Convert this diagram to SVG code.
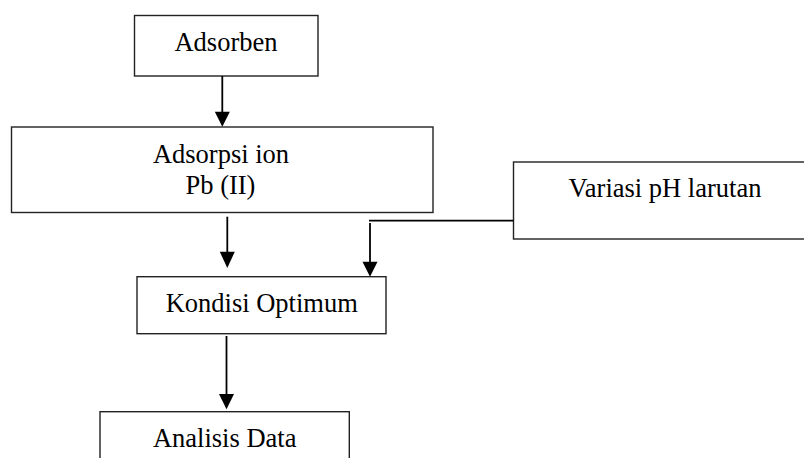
<svg xmlns="http://www.w3.org/2000/svg" width="804" height="458" viewBox="0 0 804 458">
<style>
.box{fill:#fff;stroke:#222;stroke-width:1.4}
.t{font-size:26.5px;fill:#000;text-anchor:middle}
.c{stroke:#000;stroke-width:1.8;fill:none}
.h{fill:#000}
</style>
<rect width="804" height="458" fill="#fff"/>
<g font-family="'Liberation Serif', 'DejaVu Serif', serif">
<g id="adsorben">
<rect class="box" x="134.5" y="15.5" width="183.5" height="60.5"/>
<text class="t" x="226" y="51">Adsorben</text>
</g>
<g id="adsorpsi">
<rect class="box" x="11.5" y="127" width="421.5" height="85.5"/>
<text class="t" x="221" y="163">Adsorpsi ion</text>
<text class="t" x="220.5" y="194">Pb (II)</text>
</g>
<g id="variasi">
<rect class="box" x="513.5" y="162" width="295" height="77"/>
<text class="t" x="665" y="197">Variasi pH larutan</text>
</g>
<g id="kondisi">
<rect class="box" x="137" y="276.7" width="249" height="57"/>
<text class="t" x="261.7" y="311.7">Kondisi Optimum</text>
</g>
<g id="analisis">
<rect class="box" x="100" y="411.7" width="249.3" height="60"/>
<text class="t" x="224.7" y="446.7">Analisis Data</text>
</g>
</g>
<g id="connectors">
<line class="c" x1="222.3" y1="76" x2="222.3" y2="112"/>
<polygon class="h" points="214.8,111.7 229.8,111.7 222.3,126.7"/>
<line class="c" x1="227.3" y1="216.7" x2="227.3" y2="252"/>
<polygon class="h" points="219.8,251.7 234.8,251.7 227.3,268"/>
<line class="c" x1="369" y1="220.7" x2="513.5" y2="220.7" stroke-width="2.4"/>
<line class="c" x1="370" y1="223" x2="370" y2="262"/>
<polygon class="h" points="362.5,261.7 377.5,261.7 370,276.7"/>
<line class="c" x1="226.5" y1="336" x2="226.5" y2="394.5"/>
<polygon class="h" points="219,394 234,394 226.5,409.3"/>
</g>
</svg>
